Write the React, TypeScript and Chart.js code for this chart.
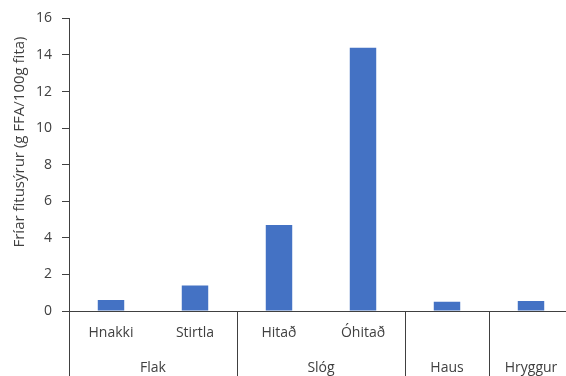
import React, { useEffect, useRef } from "react";
import { Chart, registerables } from "chart.js";

Chart.register(...registerables);

// Sub-categories (first row under the axis) and their values
const subLabels = ["Hnakki", "Stirtla", "Hitað", "Óhitað", "", ""];
const values = [0.6, 1.4, 4.7, 14.4, 0.5, 0.55];

// Group labels (second row) and how many sub-categories each one spans
const groupLabels = ["Flak", "Slóg", "Haus", "Hryggur"];
const groupSpans = [2, 2, 1, 1];

const yTitle = "Fríar fitusýrur (g FFA/100g fita)";
const yTicks = [0, 2, 4, 6, 8, 10, 12, 14, 16];

const FONT = "'Open Sans', 'Liberation Sans', sans-serif";
const TEXT = "#404040";
const LINE = "#404040";

const CANVAS_W = 590;
const CANVAS_H = 376;

// Draws the two-level category axis and the rotated value-axis title
const multiLevelAxis = {
  id: "multiLevelAxis",
  afterDraw(chart: any) {
    const { ctx, chartArea, scales } = chart;
    const x = scales.x;
    const bottom = chart.height;
    const n = subLabels.length;
    const step = (chartArea.right - chartArea.left) / n;

    ctx.save();
    ctx.strokeStyle = LINE;
    ctx.lineWidth = 1;

    // group separators reaching down through the label rows
    let idx = 0;
    const bounds: number[] = [0];
    groupSpans.forEach((s) => {
      idx += s;
      bounds.push(idx);
    });
    bounds.forEach((b) => {
      const px = Math.round(chartArea.left + b * step) + 0.5;
      ctx.beginPath();
      ctx.moveTo(px, chartArea.bottom);
      ctx.lineTo(px, bottom);
      ctx.stroke();
    });

    ctx.fillStyle = TEXT;
    ctx.textAlign = "center";
    ctx.textBaseline = "middle";
    ctx.font = `14px ${FONT}`;

    subLabels.forEach((lab, i) => {
      if (!lab) return;
      const cx = x.getPixelForValue(i);
      ctx.fillText(lab, cx, chartArea.bottom + 22);
    });

    let start = 0;
    groupLabels.forEach((g, gi) => {
      const end = start + groupSpans[gi];
      const cx = chartArea.left + ((start + end) / 2) * step;
      ctx.fillText(g, cx, chartArea.bottom + 57);
      start = end;
    });

    // value-axis title
    ctx.font = `15px ${FONT}`;
    ctx.translate(20, 142);
    ctx.rotate(-Math.PI / 2);
    ctx.fillText(yTitle, 0, 0);
    ctx.restore();
  },
};

export default function App() {
  const ref = useRef<HTMLCanvasElement | null>(null);

  useEffect(() => {
    const canvas = ref.current;
    if (!canvas) return;
    const chart = new Chart(canvas, {
      type: "bar",
      data: {
        labels: subLabels.map((l, i) => l || `c${i}`),
        datasets: [
          {
            data: values,
            backgroundColor: "#4472C4",
            borderWidth: 0,
            barPercentage: 0.315,
            categoryPercentage: 1,
          },
        ],
      },
      options: {
        animation: false,
        responsive: false,
        maintainAspectRatio: false,
        layout: { padding: { top: 15, right: 17, left: 0, bottom: 0 } },
        plugins: {
          legend: { display: false },
          tooltip: { enabled: false },
        },
        scales: {
          x: {
            grid: { display: false, drawTicks: false },
            border: { display: true, color: LINE, width: 1 },
            ticks: { display: false },
            afterFit(scale: any) {
              scale.height = 65;
            },
          },
          y: {
            min: 0,
            max: 16,
            afterBuildTicks(scale: any) {
              scale.ticks = yTicks.map((v) => ({ value: v }));
            },
            grid: {
              drawOnChartArea: false,
              drawTicks: true,
              tickLength: 7,
              color: LINE,
            },
            border: { display: true, color: LINE, width: 1 },
            ticks: {
              padding: 10,
              color: TEXT,
              font: { family: FONT, size: 14 },
            },
            afterFit(scale: any) {
              scale.width = 69;
            },
          },
        },
      },
      plugins: [multiLevelAxis],
    });
    return () => chart.destroy();
  }, []);

  return (
    <div
      style={{
        position: "fixed",
        left: 0,
        top: 0,
        width: 566,
        height: 376,
        overflow: "hidden",
        background: "#fff",
      }}
    >
      <canvas
        ref={ref}
        width={CANVAS_W}
        height={CANVAS_H}
        style={{ width: CANVAS_W, height: CANVAS_H, display: "block" }}
      />
    </div>
  );
}
